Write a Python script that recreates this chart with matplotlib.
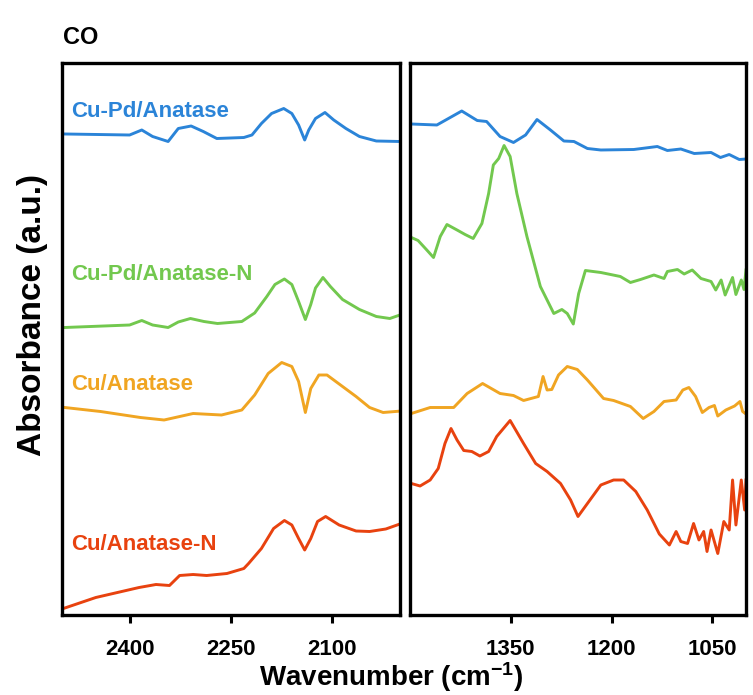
import matplotlib
matplotlib.use('Agg')
import matplotlib.pyplot as plt

# sample names, top to bottom
samples = ['Cu-Pd/Anatase', 'Cu-Pd/Anatase-N', 'Cu/Anatase', 'Cu/Anatase-N']
colors = ['#2b84d8', '#72c84e', '#f0a522', '#e8420f']

# CO stretching region, 2500-2000 cm-1 (stacked absorbance, a.u.)
co_wn_cupd = [2495, 2400, 2382, 2366, 2343, 2328, 2309, 2291, 2271, 2231, 2219, 2205,
              2190, 2172, 2160, 2150, 2141, 2135, 2125, 2111, 2098, 2080, 2060, 2035, 2000]
co_abs_cupd = [9.62, 9.60, 9.70, 9.57, 9.47, 9.73, 9.78, 9.67, 9.53, 9.55, 9.60, 9.83,
               10.03, 10.13, 10.03, 9.80, 9.50, 9.70, 9.93, 10.05, 9.90, 9.73, 9.57, 9.48, 9.47]

co_wn_cupd_n = [2496, 2400, 2382, 2366, 2343, 2328, 2310, 2290, 2270, 2234, 2215, 2197,
                2185, 2171, 2160, 2150, 2140, 2132, 2125, 2114, 2103, 2085, 2060, 2035,
                2015, 1998]
co_abs_cupd_n = [5.75, 5.80, 5.89, 5.80, 5.75, 5.86, 5.93, 5.87, 5.83, 5.87, 6.04, 6.37,
                 6.61, 6.72, 6.61, 6.27, 5.91, 6.21, 6.54, 6.75, 6.57, 6.31, 6.11, 5.97,
                 5.93, 6.01]

co_wn_cu = [2496, 2443, 2384, 2349, 2306, 2264, 2234, 2215, 2195, 2175, 2160, 2150,
            2140, 2132, 2120, 2108, 2085, 2065, 2045, 2025, 1998]
co_abs_cu = [4.15, 4.07, 3.95, 3.90, 4.03, 4.00, 4.10, 4.40, 4.83, 5.05, 4.97, 4.67,
             4.05, 4.53, 4.80, 4.80, 4.57, 4.37, 4.15, 4.05, 4.08]

co_wn_cu_n = [2498, 2450, 2386, 2361, 2341, 2326, 2306, 2286, 2256, 2231, 2224, 2205,
              2187, 2171, 2160, 2150, 2141, 2132, 2122, 2110, 2090, 2065, 2045, 2021, 1998]
co_abs_cu_n = [0.13, 0.35, 0.55, 0.61, 0.59, 0.79, 0.81, 0.79, 0.83, 0.93, 1.03, 1.33,
               1.73, 1.89, 1.80, 1.53, 1.30, 1.53, 1.87, 1.97, 1.80, 1.68, 1.67, 1.72, 1.83]

# fingerprint region, 1500-1000 cm-1
fp_wn_cupd = [1498, 1460, 1423, 1400, 1386, 1366, 1346, 1328, 1311, 1291, 1271, 1256,
              1236, 1216, 1167, 1132, 1117, 1097, 1077, 1052, 1038, 1025, 1010, 1000]
fp_abs_cupd = [9.82, 9.80, 10.08, 9.89, 9.87, 9.57, 9.45, 9.60, 9.91, 9.70, 9.48, 9.47,
               9.33, 9.30, 9.31, 9.37, 9.29, 9.32, 9.23, 9.25, 9.15, 9.21, 9.11, 9.12]

fp_wn_cupd_n = [1498, 1488, 1475, 1465, 1455, 1445, 1430, 1418, 1406, 1393, 1383, 1376,
                1368, 1360, 1351, 1341, 1326, 1306, 1286, 1274, 1266, 1257, 1249, 1239,
                1216, 1187, 1172, 1157, 1137, 1122, 1117, 1102, 1092, 1080, 1067, 1052,
                1045, 1037, 1031, 1020, 1015, 1007, 1003, 1000]
fp_abs_cupd_n = [7.55, 7.49, 7.30, 7.15, 7.57, 7.81, 7.70, 7.61, 7.53, 7.83, 8.43, 9.00,
                 9.13, 9.39, 9.17, 8.43, 7.57, 6.57, 6.03, 6.11, 6.03, 5.82, 6.43, 6.89,
                 6.85, 6.77, 6.65, 6.71, 6.80, 6.73, 6.87, 6.91, 6.82, 6.90, 6.73, 6.67,
                 6.50, 6.70, 6.40, 6.75, 6.41, 6.70, 6.51, 6.90]

fp_wn_cu = [1498, 1470, 1435, 1415, 1392, 1366, 1346, 1331, 1309, 1302, 1296, 1289,
            1279, 1266, 1251, 1236, 1212, 1197, 1172, 1153, 1137, 1122, 1104, 1094,
            1085, 1075, 1065, 1055, 1047, 1042, 1030, 1017, 1009, 1005, 1000]
fp_abs_cu = [4.03, 4.15, 4.15, 4.43, 4.63, 4.43, 4.39, 4.29, 4.37, 4.77, 4.50, 4.51,
             4.80, 4.97, 4.91, 4.70, 4.33, 4.29, 4.17, 3.93, 4.07, 4.27, 4.30, 4.50,
             4.55, 4.37, 4.05, 4.15, 4.19, 3.98, 4.10, 4.18, 4.27, 4.07, 4.02]

fp_wn_cu_n = [1498, 1485, 1470, 1458, 1448, 1439, 1430, 1420, 1408, 1396, 1383, 1371,
              1351, 1331, 1313, 1296, 1276, 1261, 1250, 1236, 1216, 1197, 1182, 1164,
              1147, 1129, 1114, 1104, 1097, 1087, 1078, 1070, 1063, 1058, 1052, 1042,
              1033, 1025, 1020, 1015, 1007, 1002, 1000]
fp_abs_cu_n = [2.63, 2.58, 2.70, 2.93, 3.43, 3.73, 3.50, 3.29, 3.27, 3.18, 3.27, 3.57,
               3.89, 3.43, 3.03, 2.87, 2.63, 2.30, 1.97, 2.23, 2.60, 2.70, 2.70, 2.47,
               2.10, 1.62, 1.40, 1.67, 1.47, 1.43, 1.83, 1.50, 1.67, 1.27, 1.70, 1.23,
               1.87, 1.70, 2.70, 1.80, 2.70, 2.10, 2.70]

# label heights (same a.u. scale as the spectra)
label_y = [10.06, 6.80, 4.61, 1.40]

co_series = [(co_wn_cupd, co_abs_cupd), (co_wn_cupd_n, co_abs_cupd_n),
             (co_wn_cu, co_abs_cu), (co_wn_cu_n, co_abs_cu_n)]
fp_series = [(fp_wn_cupd, fp_abs_cupd), (fp_wn_cupd_n, fp_abs_cupd_n),
             (fp_wn_cu, fp_abs_cu), (fp_wn_cu_n, fp_abs_cu_n)]

plt.rcParams['font.family'] = ['Liberation Sans', 'DejaVu Sans']
plt.rcParams['font.weight'] = 'bold'
plt.rcParams['mathtext.fontset'] = 'custom'
plt.rcParams['mathtext.rm'] = 'Liberation Sans:bold'
plt.rcParams['mathtext.default'] = 'rm'

fig = plt.figure(figsize=(7.53, 6.95), dpi=100)
ax1 = fig.add_axes([62 / 753, 80 / 695, 338 / 753, 552 / 695])
ax2 = fig.add_axes([410 / 753, 80 / 695, 336 / 753, 552 / 695])

for ax, series, xlim, ticks in [(ax1, co_series, (2500, 2000), [2400, 2250, 2100]),
                                (ax2, fp_series, (1500, 1000), [1350, 1200, 1050])]:
    for (wn, ab), c in zip(series, colors):
        ax.plot(wn, ab, color=c, lw=2.1, solid_joinstyle='round')
    ax.set_xlim(*xlim)
    ax.set_ylim(0, 11.04)
    ax.set_xticks(ticks)
    ax.set_yticks([])
    ax.tick_params(axis='x', direction='out', length=6, width=2.2, pad=11, labelsize=16)
    for sp in ax.spines.values():
        sp.set_linewidth(2.4)

for name, c, y in zip(samples, colors, label_y):
    ax1.text(2487, y, name, color=c, fontsize=16, fontweight='bold',
             ha='left', va='center')

fig.text(63 / 753, 1 - 37 / 695, 'CO', fontsize=17, fontweight='bold',
         ha='left', va='center')
fig.text(33 / 753, 1 - 315 / 695, 'Absorbance (a.u.)', fontsize=24, fontweight='bold',
         rotation=90, ha='center', va='center')
fig.text(391 / 753, 1 - 677 / 695, r'Wavenumber (cm$^{-1}$)', fontsize=20,
         fontweight='bold', ha='center', va='center')

fig.savefig('out.png', dpi=100, facecolor='white')
